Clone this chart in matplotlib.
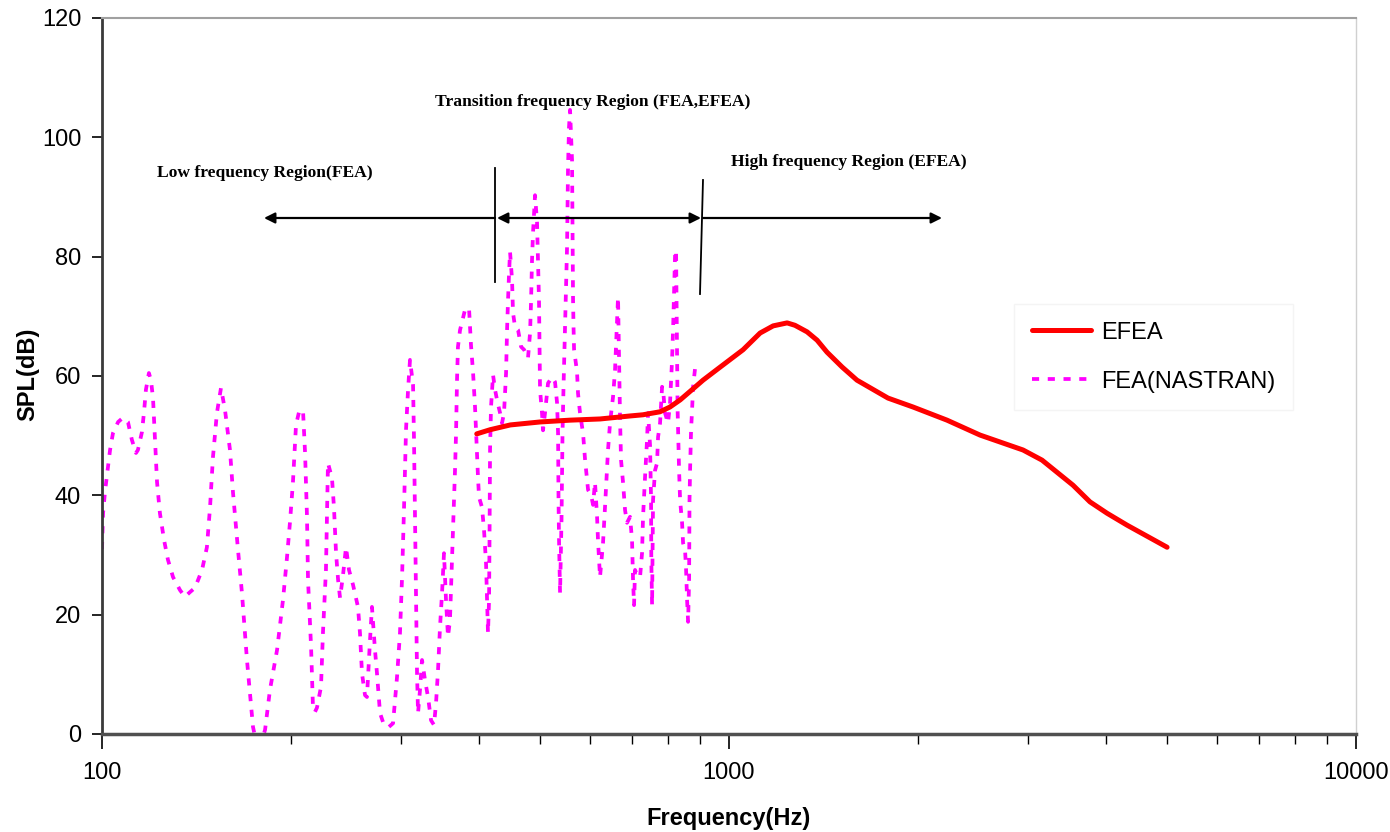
import matplotlib
matplotlib.use("Agg")
import matplotlib.pyplot as plt
from matplotlib.ticker import NullFormatter, LogLocator

# ---------------- data ----------------
efea_freq = [396, 416, 448, 500, 558, 623, 695, 729, 776, 805, 836, 873, 909, 960,
             1053, 1121, 1176, 1238, 1274, 1332, 1382, 1433, 1515, 1600, 1793, 1966,
             2227, 2514, 2944, 3157, 3537, 3765, 4008, 4314, 4997]
efea_spl = [50.3, 51.0, 51.8, 52.3, 52.6, 52.8, 53.3, 53.5, 54.0, 54.8, 56.0, 57.7, 59.3, 61.2,
            64.4, 67.2, 68.4, 68.9, 68.5, 67.4, 66.0, 64.0, 61.5, 59.3, 56.3, 54.8,
            52.6, 50.1, 47.6, 45.9, 41.7, 38.9, 37.0, 35.0, 31.3]

fea_freq = [100.0, 100.4, 101.1, 103.0, 104.1, 106.1, 108.0, 110.0, 111.6, 113.3, 114.1, 115.8,
            116.7, 117.5, 118.8, 119.7, 120.6, 121.5, 122.4, 123.7, 125.6, 127.4, 129.8, 133.2,
            135.6, 138.2, 140.7, 144.4, 147.0, 148.7, 150.3, 152.5, 154.8, 157.1, 160.0, 161.8,
            164.8, 167.2, 170.3, 174.1, 177.5, 182.0, 185.3, 190.2, 194.4, 197.3, 199.4, 201.6,
            203.9, 206.2, 209.2, 210.8, 212.3, 213.1, 215.5, 217.0, 218.6, 220.2, 223.5, 225.1,
            227.6, 228.5, 229.3, 232.7, 234.4, 236.2, 238.0, 239.7, 242.3, 245.0, 247.7, 251.4,
            256.0, 257.9, 259.8, 262.7, 264.6, 267.6, 269.5, 272.5, 274.5, 277.6, 281.7, 286.9,
            291.2, 295.5, 298.7, 301.0, 303.2, 305.4, 307.7, 309.9, 313.4, 314.5, 315.7, 316.8,
            318.0, 319.2, 321.5, 323.9, 327.5, 331.1, 334.8, 338.5, 341.0, 343.5, 346.0, 348.6,
            351.1, 353.7, 356.3, 358.9, 361.6, 364.3, 365.6, 367.0, 368.3, 369.6, 372.4, 379.3,
            384.9, 387.7, 390.6, 393.5, 394.9, 396.4, 397.8, 399.3, 403.7, 406.7, 409.7, 411.2,
            412.7, 414.3, 415.0, 415.8, 417.3, 420.4, 423.5, 426.6, 431.4, 434.5, 437.7, 441.0,
            442.6, 444.2, 445.9, 447.5, 450.8, 452.4, 455.8, 460.9, 466.0, 471.2, 478.0, 481.6,
            483.3, 485.1, 486.9, 488.7, 490.5, 494.1, 495.9, 497.7, 498.6, 499.6, 503.2, 505.1,
            508.8, 514.5, 522.1, 527.9, 531.8, 533.8, 534.7, 535.7, 537.7, 540.6, 542.6, 544.6,
            547.6, 549.7, 551.7, 553.7, 555.7, 557.8, 561.9, 563.0, 564.0, 565.0, 566.1, 572.3,
            574.4, 578.6, 585.1, 589.5, 596.0, 602.5, 607.0, 611.3, 616.0, 618.1, 622.7, 629.6,
            634.2, 641.3, 646.0, 653.2, 658.0, 662.9, 665.3, 670.3, 672.7, 677.7, 682.7, 687.7,
            695.3, 700.4, 703.0, 705.6, 708.2, 713.4, 721.3, 726.6, 729.3, 734.7, 740.1, 742.8,
            748.3, 751.1, 751.8, 753.9, 756.6, 762.2, 767.8, 770.7, 776.3, 782.1, 785.0, 790.6,
            799.4, 805.3, 811.3, 814.3, 817.3, 820.3, 823.3, 826.4, 828.0, 832.5, 835.6, 841.7,
            844.8, 851.0, 854.2, 857.3, 860.5, 863.7, 865.0, 866.8, 870.0, 873.2, 876.4, 882.9]
fea_spl = [31.0, 37.0, 40.6, 47.6, 50.4, 52.3, 53.0, 52.3, 49.3, 47.1, 47.6, 50.6,
           54.0, 57.7, 60.5, 59.3, 56.3, 49.3, 42.2, 37.0, 32.5, 29.2, 26.3, 24.1,
           23.0, 23.8, 24.5, 27.5, 31.3, 38.0, 46.4, 53.8, 58.0, 54.3, 47.6, 40.4,
           30.8, 23.6, 12.4, 1.2, -3.0, 0.7, 7.4, 14.1, 22.5, 29.7, 35.4, 42.1,
           51.8, 54.0, 54.3, 47.1, 36.4, 25.8, 14.6, 4.5, 3.7, 4.4, 7.9, 16.9,
           27.5, 37.5, 45.4, 42.9, 38.0, 30.3, 25.8, 22.8, 26.6, 31.3, 27.5, 25.0,
           21.3, 16.9, 10.2, 6.5, 6.2, 15.8, 21.3, 14.1, 10.2, 3.5, 1.5, 1.2,
           1.8, 9.6, 16.9, 26.3, 38.0, 51.0, 57.7, 62.7, 58.5, 49.3, 35.9, 22.5,
           10.2, 3.5, 7.4, 12.4, 9.0, 6.2, 2.3, 1.5, 5.2, 10.7, 17.9, 23.6,
           30.3, 22.5, 16.3, 19.1, 29.2, 39.2, 44.2, 50.4, 59.3, 64.9, 67.7, 71.1,
           71.4, 65.2, 60.7, 54.8, 50.9, 46.4, 43.1, 39.7, 38.0, 34.2, 28.7, 22.5,
           16.9, 22.5, 32.5, 47.6, 54.8, 60.2, 57.7, 56.0, 53.8, 52.1, 53.8, 60.5,
           67.7, 72.7, 77.3, 80.8, 76.1, 70.6, 68.2, 67.7, 64.9, 64.4, 63.0, 67.2,
           72.2, 79.4, 84.0, 87.3, 90.3, 85.8, 79.4, 72.7, 64.9, 57.7, 53.8, 50.9,
           53.8, 58.8, 59.8, 59.0, 55.5, 50.4, 39.2, 32.5, 23.6, 35.9, 50.4, 58.2,
           68.2, 74.9, 81.6, 95.0, 101.7, 104.6, 96.2, 83.3, 72.7, 68.2, 64.4, 60.7,
           57.1, 53.8, 50.4, 45.9, 40.9, 40.1, 38.4, 42.2, 36.4, 32.5, 26.3, 32.0,
           38.0, 47.6, 52.1, 56.5, 61.0, 69.4, 73.2, 52.6, 45.9, 42.1, 37.5, 35.4,
           36.4, 32.5, 25.8, 21.6, 27.5, 26.6, 26.3, 30.3, 36.4, 43.1, 49.3, 53.8,
           48.4, 39.2, 29.2, 21.6, 39.2, 44.2, 45.4, 49.8, 52.1, 58.2, 57.7, 53.8,
           52.1, 55.5, 62.7, 67.7, 73.9, 80.3, 81.1, 63.2, 54.3, 44.2, 39.2, 35.4,
           32.0, 30.8, 27.5, 22.5, 18.8, 25.8, 39.2, 44.2, 51.0, 54.3, 58.2, 61.3]

y_ticks = [0, 20, 40, 60, 80, 100, 120]
x_ticks = [100, 1000, 10000]
x_tick_labels = ["100", "1000", "10000"]
series_labels = ["EFEA", "FEA(NASTRAN)"]
region_labels = ["Low frequency Region(FEA)",
                 "Transition frequency Region (FEA,EFEA)",
                 "High frequency Region (EFEA)"]

# ---------------- figure ----------------
W, H = 1390, 832
plt.rcParams['font.family'] = ['Liberation Sans', 'DejaVu Sans']
fig = plt.figure(figsize=(W / 100, H / 100), dpi=100)
fig.patch.set_facecolor('white')


def fx(px):
    return px / W


def fy(py):
    return 1 - py / H


ax = fig.add_axes([fx(102), fy(734), fx(1356) - fx(102), fy(18) - fy(734)])
ax.set_xscale('log')
ax.set_xlim(100, 10000)
ax.set_ylim(0, 120)

ax.plot(efea_freq, efea_spl, color='#ff0000', lw=3.6, solid_capstyle='round',
        label=series_labels[0], zorder=3)
ax.plot(fea_freq, fea_spl, color='#ff00ff', lw=2.7, dashes=(1.9, 2.3),
        label=series_labels[1], zorder=2)

ax.set_yticks(y_ticks)
ax.set_xticks(x_ticks)
ax.set_xticklabels(x_tick_labels)
ax.xaxis.set_minor_locator(LogLocator(base=10, subs=range(2, 10)))
ax.xaxis.set_minor_formatter(NullFormatter())
ax.tick_params(axis='y', direction='out', length=7, width=1.2, labelsize=17, pad=8, colors='black')
ax.tick_params(axis='x', which='major', direction='out', length=11, width=1.2, labelsize=17, pad=9)
ax.tick_params(axis='x', which='minor', direction='out', length=7, width=1.0)

ax.spines['left'].set_color('#3a3a3a')
ax.spines['left'].set_linewidth(2.0)
ax.spines['bottom'].set_color('#505050')
ax.spines['bottom'].set_linewidth(2.5)
ax.spines['top'].set_color('#a0a0a0')
ax.spines['top'].set_linewidth(1.5)
ax.spines['right'].set_color('#d0d0d0')
ax.spines['right'].set_linewidth(1.0)

fig.text(fx(729), fy(818), "Frequency(Hz)", ha='center', va='center',
         fontsize=17, fontweight='bold')
fig.text(fx(28), fy(374), "SPL(dB)", ha='center', va='center', rotation=90,
         fontsize=17, fontweight='bold')

# region annotations
serif = ['Liberation Serif', 'DejaVu Serif']
fig.text(fx(157), fy(173), region_labels[0], ha='left', va='center',
         fontsize=12.6, fontweight='bold', family=serif)
fig.text(fx(435), fy(102), region_labels[1], ha='left', va='center',
         fontsize=12.6, fontweight='bold', family=serif)
fig.text(fx(731), fy(162), region_labels[2], ha='left', va='center',
         fontsize=12.6, fontweight='bold', family=serif)

arrow_kw = dict(arrowstyle='-|>', color='black', lw=1.6, mutation_scale=16,
                shrinkA=0, shrinkB=0)
fig.add_artist(matplotlib.patches.FancyArrowPatch(
    (fx(495), fy(218)), (fx(264), fy(218)), transform=fig.transFigure, **arrow_kw))
fig.add_artist(matplotlib.patches.FancyArrowPatch(
    (fx(497), fy(218)), (fx(701), fy(218)), transform=fig.transFigure,
    arrowstyle='<|-|>', color='black', lw=1.6, mutation_scale=16, shrinkA=0, shrinkB=0))
fig.add_artist(matplotlib.patches.FancyArrowPatch(
    (fx(703), fy(218)), (fx(942), fy(218)), transform=fig.transFigure, **arrow_kw))
fig.add_artist(matplotlib.lines.Line2D([fx(495), fx(495)], [fy(168), fy(282)],
                                       transform=fig.transFigure, color='black', lw=1.3))
fig.add_artist(matplotlib.lines.Line2D([fx(703), fx(700)], [fy(180), fy(294)],
                                       transform=fig.transFigure, color='black', lw=1.3))

leg = ax.legend(loc='upper left', bbox_to_anchor=(fx(1002), fy(292)),
                bbox_transform=fig.transFigure, fontsize=17, frameon=True,
                handlelength=2.5, handletextpad=0.45, labelspacing=1.15,
                borderpad=0.75, fancybox=False)
leg.get_frame().set_edgecolor('#f2f2f2')
leg.get_frame().set_linewidth(1.0)

fig.savefig('out.png', dpi=100, facecolor='white')
